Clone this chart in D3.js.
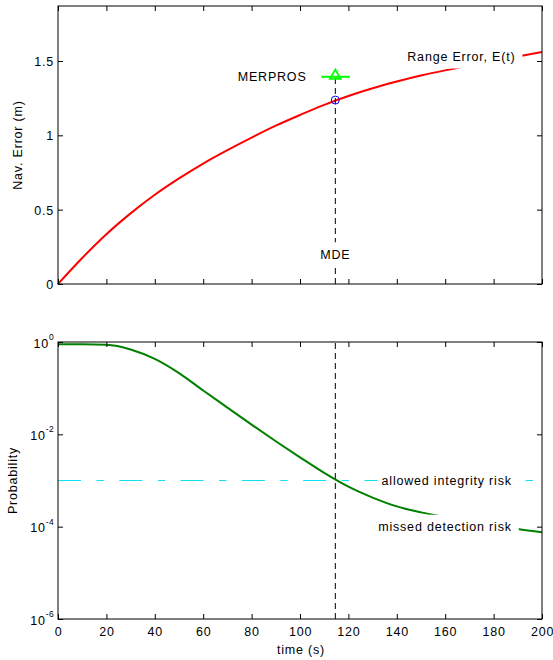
<!DOCTYPE html>
<html>
<head>
<meta charset="utf-8">
<script src="https://cdn.jsdelivr.net/npm/d3@7"></script>
<style>
body { margin: 0; background: #fff; }
text { font-family: "Liberation Sans", Arial, sans-serif; font-size: 12.5px; letter-spacing: 0.8px; fill: #000; }
</style>
</head>
<body>
<div class="g-graphic"></div>
<script>
(function(d3) {
    "use strict";

    // time axis
    var timeTicks = [0, 20, 40, 60, 80, 100, 120, 140, 160, 180, 200];

    // top panel: range error E(t)
    var errTicks = [0, 0.5, 1, 1.5];
    var errTime = [0, 10, 20, 30, 40, 50, 60, 70, 80, 90, 100, 110, 120, 130, 140, 150, 160, 170, 180, 190, 200];
    var errValue = [0, 0.175, 0.335, 0.475, 0.60, 0.71, 0.81, 0.90, 0.985, 1.065, 1.137, 1.205, 1.265, 1.317, 1.362, 1.402, 1.437, 1.469, 1.50, 1.53, 1.56];

    // bottom panel: missed detection probability
    var probExponents = [0, -2, -4, -6];
    var probTime = [0, 10, 20, 30, 40, 50, 60, 70, 80, 90, 100, 110, 120, 130, 140, 150, 160, 170, 180, 190, 200];
    var probValue = [0.891, 0.891, 0.871, 0.69, 0.43, 0.212, 0.0891, 0.038, 0.0162, 0.00708, 0.00318, 0.00146, 0.000735, 0.000427, 0.000275, 0.000204, 0.000162, 0.000132, 0.00011, 0.0000891, 0.0000759];

    // markers
    var mdeTime = 114.6;
    var mdeError = 1.237;
    var merprosValue = 1.394;
    var merprosSpan = [108.8, 120.6];
    var allowedRisk = 1e-3;

    var width = 553, height = 660,
        plotLeft = 58, plotRight = 542,
        topPanel = {top: 6, bottom: 284},
        botPanel = {top: 342, bottom: 619},
        tickLen = 5;

    var x = d3.scaleLinear().domain([0, 200]).range([plotLeft, plotRight]);
    var yErr = d3.scaleLinear().domain([0, 1.87]).range([topPanel.bottom, topPanel.top]);
    var yProb = d3.scaleLog().domain([1e-6, 1]).range([botPanel.bottom, botPanel.top]);

    var svg = d3.select(".g-graphic").append("svg")
        .attr("width", width)
        .attr("height", height)
        .style("display", "block");

    // label with white background box (like matlab text BackgroundColor)
    function boxedLabel(g, str, px, py, anchor) {
        var t = g.append("text")
            .attr("x", px)
            .attr("y", py)
            .attr("dy", "0.35em")
            .attr("text-anchor", anchor)
            .text(str);
        var bb = t.node().getBBox();
        g.insert("rect", function() { return t.node(); })
            .attr("x", bb.x - 4)
            .attr("y", py - 12)
            .attr("width", bb.width + 11)
            .attr("height", 24)
            .attr("fill", "#fff");
        return t;
    }

    function frame(g, yScale, yTicks, panel, xLabels) {
        var bottom = d3.axisBottom(x).tickValues(timeTicks).tickSizeInner(-tickLen).tickSizeOuter(0).tickPadding(8);
        if (!xLabels) bottom.tickFormat("");
        g.append("g").attr("transform", "translate(0," + panel.bottom + ")").call(bottom);
        g.append("g").attr("transform", "translate(0," + panel.top + ")")
            .call(d3.axisTop(x).tickValues(timeTicks).tickSizeInner(-tickLen).tickSizeOuter(0).tickFormat(""));
        g.append("g").attr("transform", "translate(" + plotRight + ",0)")
            .call(d3.axisRight(yScale).tickValues(yTicks).tickSizeInner(-tickLen).tickSizeOuter(0).tickFormat(""));
        var left = g.append("g").attr("class", "yleft").attr("transform", "translate(" + plotLeft + ",0)");
        g.selectAll(".domain").remove();
        g.selectAll(".tick line").attr("stroke", "#000");
        g.append("rect")
            .attr("x", plotLeft).attr("y", panel.top)
            .attr("width", plotRight - plotLeft).attr("height", panel.bottom - panel.top)
            .attr("fill", "none").attr("stroke", "#000").attr("stroke-width", 1);
        return left;
    }

    // ---------- top panel ----------
    var top = svg.append("g").attr("class", "focus");

    var errLine = d3.line()
        .x(function(d, i) { return x(errTime[i]); })
        .y(function(d) { return yErr(d); })
        .curve(d3.curveMonotoneX);

    top.append("path")
        .attr("d", errLine(errValue))
        .attr("fill", "none")
        .attr("stroke", "#ff0000")
        .attr("stroke-width", 2);

    top.append("line")
        .attr("x1", x(mdeTime)).attr("x2", x(mdeTime))
        .attr("y1", yErr(0)).attr("y2", yErr(merprosValue))
        .attr("stroke", "#000").attr("stroke-dasharray", "6,4");

    top.append("line")
        .attr("x1", x(merprosSpan[0])).attr("x2", x(merprosSpan[1]))
        .attr("y1", yErr(merprosValue)).attr("y2", yErr(merprosValue))
        .attr("stroke", "#00ff00").attr("stroke-width", 2);

    top.append("path")
        .attr("d", d3.symbol(d3.symbolTriangle, 50)())
        .attr("transform", "translate(" + x(mdeTime) + "," + (yErr(merprosValue) - 1) + ")")
        .attr("fill", "none").attr("stroke", "#00ff00").attr("stroke-width", 1.8);

    top.append("circle")
        .attr("cx", x(mdeTime)).attr("cy", yErr(mdeError)).attr("r", 4)
        .attr("fill", "none").attr("stroke", "#0000ff");

    boxedLabel(top, "Range Error, E(t)", x(189), yErr(1.53), "end");
    top.append("text")
        .attr("x", x(102.7)).attr("y", yErr(merprosValue)).attr("dy", "0.35em")
        .attr("text-anchor", "end").text("MERPROS");
    boxedLabel(top, "MDE", x(mdeTime), yErr(0.2), "middle");

    var topLeft = frame(top, yErr, errTicks, topPanel, false);
    topLeft.call(d3.axisLeft(yErr).tickValues(errTicks).tickSizeInner(-tickLen).tickSizeOuter(0).tickPadding(4).tickFormat(d3.format("")));
    topLeft.select(".domain").remove();
    topLeft.selectAll(".tick text").attr("dy", "0.35em");

    top.append("text")
        .attr("transform", "translate(18," + ((topPanel.top + topPanel.bottom) / 2) + ") rotate(-90)")
        .attr("text-anchor", "middle").attr("dy", "0.35em")
        .text("Nav. Error (m)");

    // ---------- bottom panel ----------
    var bot = svg.append("g").attr("class", "context");

    bot.append("line")
        .attr("x1", plotLeft).attr("x2", plotRight)
        .attr("y1", yProb(allowedRisk)).attr("y2", yProb(allowedRisk))
        .attr("stroke", "#10e0f0").attr("stroke-dasharray", "23,15.5,7.3,15.5");

    bot.append("line")
        .attr("x1", x(mdeTime)).attr("x2", x(mdeTime))
        .attr("y1", yProb(1e-6)).attr("y2", yProb(1))
        .attr("stroke", "#000").attr("stroke-dasharray", "6,4");

    var probLine = d3.line()
        .x(function(d, i) { return x(probTime[i]); })
        .y(function(d) { return yProb(d); })
        .curve(d3.curveMonotoneX);

    bot.append("path")
        .attr("d", probLine(probValue))
        .attr("fill", "none")
        .attr("stroke", "#008000")
        .attr("stroke-width", 2);

    boxedLabel(bot, "allowed integrity risk", x(187.5), yProb(allowedRisk), "end");
    boxedLabel(bot, "missed detection risk", x(187.5), yProb(1e-4), "end");

    var probTicks = probExponents.map(function(e) { return Math.pow(10, e); });
    var botLeft = frame(bot, yProb, probTicks, botPanel, true);
    botLeft.call(d3.axisLeft(yProb).tickValues(probTicks).tickSizeInner(-tickLen).tickSizeOuter(0).tickFormat(""));
    botLeft.select(".domain").remove();
    botLeft.selectAll(".tick line").attr("stroke", "#000");

    probExponents.forEach(function(e) {
        var t = bot.append("text")
            .attr("x", plotLeft - 4)
            .attr("y", yProb(Math.pow(10, e)) + 5.5)
            .attr("text-anchor", "end");
        t.append("tspan").text("10");
        t.append("tspan").attr("dy", -7.5).style("font-size", "8.5px").style("letter-spacing", "0.3px").text(e);
    });

    bot.selectAll(".tick text").attr("dy", "0.71em");

    bot.append("text")
        .attr("x", (plotLeft + plotRight) / 2 + 1).attr("y", 650).attr("dy", "0.35em")
        .attr("text-anchor", "middle").text("time (s)");

    bot.append("text")
        .attr("transform", "translate(13," + ((botPanel.top + botPanel.bottom) / 2) + ") rotate(-90)")
        .attr("text-anchor", "middle").attr("dy", "0.35em")
        .text("Probability");

})(d3);
</script>
</body>
</html>
